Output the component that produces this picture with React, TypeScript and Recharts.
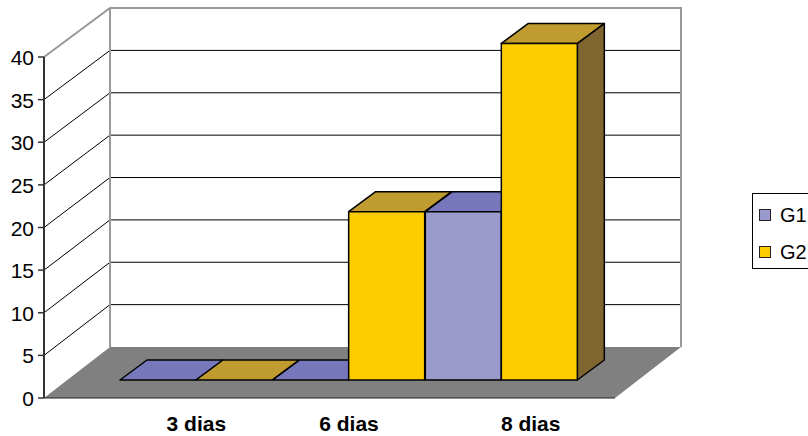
import React from 'react'
import * as R from 'recharts'

const { BarChart, Bar, XAxis, YAxis, Legend } = R

const categories = ['3 dias', '6 dias', '8 dias']
const g1Values = [0, 0, 20]
const g2Values = [0, 20, 40]
const yTicks = [0, 5, 10, 15, 20, 25, 30, 35, 40]

const data = categories.map((name, i) => ({ name, G1: g1Values[i], G2: g2Values[i] }))

const W = 808
const H = 436
const margin = { top: 57, right: 193, bottom: 0, left: 0 }
const Y_AXIS_W = 44
const X_AXIS_H = 38
const Y_MAX = 40
const FONT = '"Liberation Sans", Arial, sans-serif'

// 3d look: bars sit part way into the floor, walls sit at the back
const BAR_DX = 23
const BAR_DY = 18
const BAR_SHRINK = 0.987
const TOP_DX = 27
const TOP_DY = 20
const BACK_DX = 66
const BACK_DY = 51
const BACK_K = 0.994

const colors = {
  G1: { front: '#9999CC', top: '#7777BB', side: '#5F5F99' },
  G2: { front: '#FFCC00', top: '#BF9B30', side: '#7F6530' },
}

const usePA = (R as any).usePlotArea

function Walls() {
  const pa = usePA ? usePA() : null
  const left = pa?.x ?? Y_AXIS_W + margin.left
  const top = pa?.y ?? margin.top
  const width = pa?.width ?? W - margin.left - margin.right - Y_AXIS_W
  const height = pa?.height ?? H - margin.top - margin.bottom - X_AXIS_H
  const bottom = top + height
  const fy = (v: number) => bottom - (height * v) / Y_MAX
  const by = (v: number) => bottom - BACK_DY - (height * BACK_K * v) / Y_MAX
  const bl = left + BACK_DX
  const br = left + width + BACK_DX

  return (
    <g>
      <polygon points={`${bl},${by(Y_MAX)} ${br},${by(Y_MAX)} ${br},${by(0)} ${bl},${by(0)}`} fill="#fff" />
      {yTicks
        .filter((v) => v > 0 && v < Y_MAX)
        .map((v) => (
          <polyline
            key={v}
            points={`${left},${fy(v)} ${bl},${by(v)} ${br},${by(v)}`}
            fill="none"
            stroke="#000"
            strokeWidth={1}
          />
        ))}
      <polyline
        points={`${left},${fy(Y_MAX)} ${bl},${by(Y_MAX)} ${br},${by(Y_MAX)} ${br},${by(0)}`}
        fill="none"
        stroke="#999"
        strokeWidth={2}
      />
      <line x1={bl} y1={by(Y_MAX)} x2={bl} y2={by(0)} stroke="#999" strokeWidth={2} />
      <polygon
        points={`${left},${bottom} ${left + width},${bottom} ${br},${by(0)} ${bl},${by(0)}`}
        fill="#808080"
      />
    </g>
  )
}

function Box3D(props: any) {
  const { x, y, width, height, faces, showSide } = props
  const fx = x + BAR_DX
  const fb = y + height - BAR_DY
  const h = height * BAR_SHRINK
  const ft = fb - h
  const w = width
  return (
    <g stroke="#000" strokeWidth={1.5} strokeLinejoin="round">
      {showSide && (
        <polygon
          points={`${fx + w},${ft} ${fx + w + TOP_DX},${ft - TOP_DY} ${fx + w + TOP_DX},${fb - TOP_DY} ${fx + w},${fb}`}
          fill={faces.side}
        />
      )}
      <polygon
        points={`${fx},${ft} ${fx + w},${ft} ${fx + w + TOP_DX},${ft - TOP_DY} ${fx + TOP_DX},${ft - TOP_DY}`}
        fill={faces.top}
      />
      {h > 0 && <rect x={fx} y={ft} width={w} height={h} fill={faces.front} />}
    </g>
  )
}

function YTick(props: any) {
  const { x, y, payload } = props
  return (
    <text x={x} y={y} dy={8} textAnchor="end" fill="#000" fontSize={21} fontFamily={FONT}>
      {payload.value}
    </text>
  )
}

function XTick(props: any) {
  const { x, y, payload, index } = props
  const nudge = index === categories.length - 1 ? 29 : 0
  return (
    <text x={x + BAR_DX + nudge} y={y} dy={33} textAnchor="middle" fill="#000" fontSize={21} fontWeight="bold" fontFamily={FONT}>
      {payload.value}
    </text>
  )
}

function LegendBox() {
  const items = [
    { label: 'G1', color: colors.G1.front },
    { label: 'G2', color: colors.G2.front },
  ]
  return (
    <div
      style={{
        position: 'relative',
        width: 70,
        height: 76,
        border: '1px solid #000',
        boxSizing: 'border-box',
        background: '#fff',
        fontFamily: FONT,
        fontSize: 20,
      }}
    >
      {items.map((it, i) => (
        <div key={it.label} style={{ position: 'absolute', left: 6, top: 10 + i * 37, display: 'flex', alignItems: 'center' }}>
          <span
            style={{
              display: 'inline-block',
              width: 12,
              height: 12,
              background: it.color,
              border: '1px solid #222',
              boxSizing: 'border-box',
              marginRight: 9,
            }}
          />
          <span style={{ lineHeight: '22px', color: '#000' }}>{it.label}</span>
        </div>
      ))}
    </div>
  )
}

export default function App() {
  return (
    <div style={{ position: 'absolute', left: 0, top: 0, width: W, height: H, background: '#fff', overflow: 'hidden' }}>
      <BarChart width={W} height={H} data={data} margin={margin} barCategoryGap={0} barGap={0}>
        <Walls />
        <XAxis
          dataKey="name"
          height={X_AXIS_H}
          padding={{ left: 53, right: 60 }}
          axisLine={{ stroke: '#222', strokeWidth: 1 }}
          tickLine={false}
          tickSize={0}
          tickMargin={0}
          tick={<XTick />}
          interval={0}
        />
        <YAxis
          width={Y_AXIS_W}
          domain={[0, Y_MAX]}
          ticks={yTicks}
          interval={0}
          axisLine={{ stroke: '#333', strokeWidth: 2 }}
          tickLine={{ stroke: '#333', strokeWidth: 1.5 }}
          tickSize={6}
          tickMargin={4}
          tick={<YTick />}
        />
        <Legend
          layout="horizontal"
          align="center"
          verticalAlign="middle"
          wrapperStyle={{ left: 752, top: 193, width: 70, height: 76 }}
          content={() => <LegendBox />}
        />
        <Bar
          dataKey="G1"
          fill={colors.G1.front}
          isAnimationActive={false}
          shape={(p: any) => <Box3D {...p} faces={colors.G1} showSide={false} />}
        />
        <Bar
          dataKey="G2"
          fill={colors.G2.front}
          isAnimationActive={false}
          shape={(p: any) => <Box3D {...p} faces={colors.G2} showSide={p.index === categories.length - 1} />}
        />
      </BarChart>
    </div>
  )
}
